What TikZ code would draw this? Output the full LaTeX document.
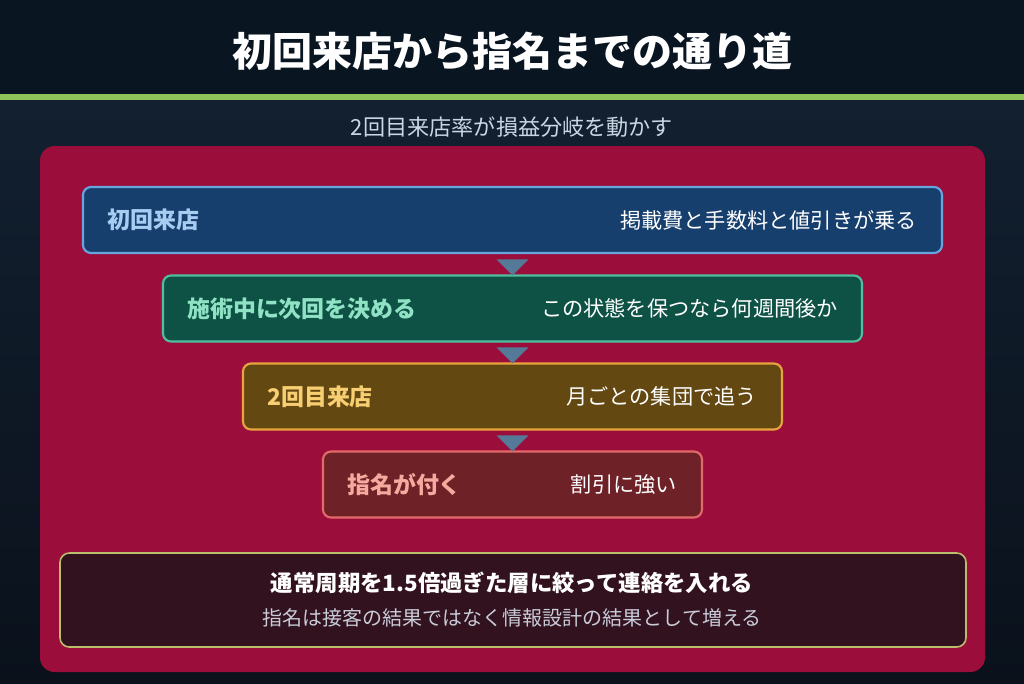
\documentclass[tikz,border=0pt]{standalone}
\usepackage{fontspec}
\setmainfont{Noto Sans CJK JP}
\usetikzlibrary{calc}
\definecolor{bandc}{HTML}{0A1522}
\definecolor{greenline}{HTML}{8FC45A}
\definecolor{bgtop}{HTML}{122030}
\definecolor{bgbot}{HTML}{0A111B}
\definecolor{panelc}{HTML}{9B0E3B}
\definecolor{subc}{HTML}{C9D6E3}
\definecolor{tric}{HTML}{557A98}
\definecolor{fa}{HTML}{173F6E}\definecolor{da}{HTML}{6AA4DC}\definecolor{la}{HTML}{A8CDF2}
\definecolor{fb}{HTML}{0E5246}\definecolor{db}{HTML}{4FBF9F}\definecolor{lb}{HTML}{8FE3C4}
\definecolor{fc}{HTML}{644812}\definecolor{dc}{HTML}{E9A43E}\definecolor{lc}{HTML}{F7CF72}
\definecolor{fd}{HTML}{6E2228}\definecolor{dd}{HTML}{E36A6A}\definecolor{ld}{HTML}{F6A99E}
\definecolor{fe}{HTML}{33121F}\definecolor{de}{HTML}{B9BD6C}\definecolor{le}{HTML}{C8CCD8}
\tikzset{
  stagebox/.style={draw, line width=1.6pt, rounded corners=6pt, minimum height=49.5pt, inner sep=0pt},
  lefttxt/.style={anchor=west, font=\fontsize{17.2}{20}\selectfont\bfseries, inner sep=0pt},
  righttxt/.style={anchor=east, font=\fontsize{15.9}{20}\selectfont, text=white, inner sep=0pt},
  tri/.style={fill=tric}
}
\begin{document}
\begin{tikzpicture}[x=0.75pt,y=-0.75pt]
\useasboundingbox (0,0) rectangle (1024,683);
% background
\shade[top color=bgtop, bottom color=bgbot] (0,100) rectangle (1024,683);
\fill[bandc] (0,0) rectangle (1024,94);
\fill[greenline] (0,94) rectangle (1024,100);
\node[text=white, font=\fontsize{30}{36}\selectfont\bfseries] (title) at (512,51) {初回来店から指名までの通り道};
\node[text=subc, font=\fontsize{16.6}{20}\selectfont] (sub) at (512,127) {2回目来店率が損益分岐を動かす};
% panel
\fill[panelc, rounded corners=11pt] (40,146) rectangle (985,672);
% stages
\node[stagebox, fill=fa, draw=da, minimum width=644.25pt] (b1) at (512.5,220) {};
\node[stagebox, fill=fb, draw=db, minimum width=524.25pt] (b2) at (512.5,308.5) {};
\node[stagebox, fill=fc, draw=dc, minimum width=404.25pt] (b3) at (512.5,396.5) {};
\node[stagebox, fill=fd, draw=dd, minimum width=284.25pt] (b4) at (512.5,484.5) {};
\node[lefttxt, text=la] (l1) at ($(b1.west)+(25,0)$) {初回来店};
\node[righttxt] (r1) at ($(b1.east)+(-26,0)$) {掲載費と手数料と値引きが乗る};
\node[lefttxt, text=lb] (l2) at ($(b2.west)+(25,0)$) {施術中に次回を決める};
\node[righttxt] (r2) at ($(b2.east)+(-25,0)$) {この状態を保つなら何週間後か};
\node[lefttxt, text=lc] (l3) at ($(b3.west)+(25,0)$) {2回目来店};
\node[righttxt] (r3) at ($(b3.east)+(-26,0)$) {月ごとの集団で追う};
\node[lefttxt, text=ld] (l4) at ($(b4.west)+(25,0)$) {指名が付く};
\node[righttxt] (r4) at ($(b4.east)+(-26,0)$) {割引に強い};
% connectors (triangles)
\fill[tri] ($(b2.north)+(0,1)$) -- ++(-16,-16) -- ++(32,0) -- cycle;
\fill[tri] ($(b3.north)+(0,1)$) -- ++(-16,-16) -- ++(32,0) -- cycle;
\fill[tri] ($(b4.north)+(0,1)$) -- ++(-16,-16) -- ++(32,0) -- cycle;
% bottom note
\node[draw=de, fill=fe, line width=1.2pt, rounded corners=7pt, minimum width=679.5pt, minimum height=70.5pt] (note) at (513,600) {};
\node[text=white, font=\fontsize{16.8}{20}\selectfont\bfseries] (n1) at (512,583) {通常周期を1.5倍過ぎた層に絞って連絡を入れる};
\node[text=le, font=\fontsize{15}{18}\selectfont] (n2) at (512,618) {指名は接客の結果ではなく情報設計の結果として増える};
\end{tikzpicture}
\end{document}
